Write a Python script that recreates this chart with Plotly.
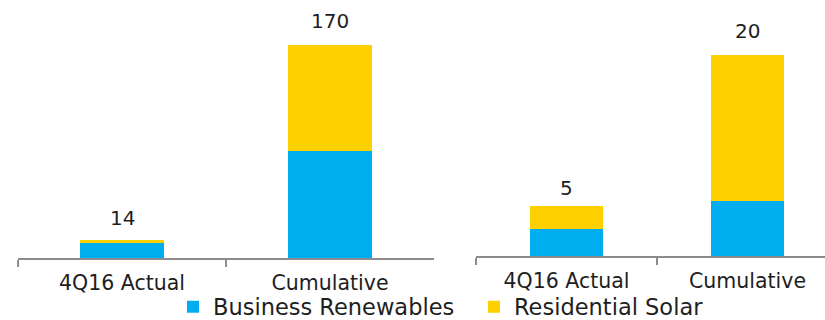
import plotly.graph_objects as go

categories = ["4Q16 Actual", "Cumulative"]
left_business = [12, 85]
left_residential = [2, 85]
left_totals = [14, 170]
right_business = [2.7, 5.5]
right_residential = [2.3, 14.5]
right_totals = [5, 20]
series_names = ["Business Renewables", "Residential Solar"]

BLUE = "#00AEEF"
YELLOW = "#FFD000"
AXIS = "#8C8C8C"
TEXT = "#1E1E1E"
FONT = "DejaVu Sans"

fig = go.Figure()

for vals, name, color in [(left_business, series_names[0], BLUE), (left_residential, series_names[1], YELLOW)]:
    fig.add_trace(go.Bar(x=categories, y=vals, name=name, marker=dict(color=color, line=dict(width=0)),
                         width=0.4, xaxis="x", yaxis="y", legendgroup=name, showlegend=True))
for vals, name, color in [(right_business, series_names[0], BLUE), (right_residential, series_names[1], YELLOW)]:
    fig.add_trace(go.Bar(x=categories, y=vals, name=name, marker=dict(color=color, line=dict(width=0)),
                         width=0.4, xaxis="x2", yaxis="y2", legendgroup=name, showlegend=False))

label_shift = {("x", 0): 8, ("x", 1): 10, ("x2", 0): 4, ("x2", 1): 10}
for ax, totals in [("x", left_totals), ("x2", right_totals)]:
    for i, (c, t) in enumerate(zip(categories, totals)):
        fig.add_annotation(x=c, y=t, xref=ax, yref="y" if ax == "x" else "y2", text=str(t),
                           showarrow=False, yanchor="bottom", yshift=label_shift[(ax, i)],
                           font=dict(family=FONT, size=20, color=TEXT))

xcommon = dict(type="category", showline=True, linecolor=AXIS, linewidth=2, ticks="outside",
               ticklen=7, tickwidth=2, tickcolor=AXIS, tickson="boundaries", showgrid=False,
               zeroline=False, tickfont=dict(family=FONT, size=20.5, color=TEXT), ticklabelstandoff=5,
               fixedrange=True, automargin=False)

fig.update_layout(
    width=825, height=320, margin=dict(l=0, r=0, t=0, b=0, autoexpand=False),
    paper_bgcolor="white", plot_bgcolor="white", barmode="stack",
    xaxis=dict(domain=[18 / 825, 434 / 825], range=[-0.5, 1.5], anchor="y", **xcommon),
    yaxis=dict(domain=[62 / 320, 1.0], range=[0, 205.9], visible=False, anchor="x"),
    xaxis2=dict(domain=[476 / 825, 1.0], range=[-0.5, 1.428], anchor="y2", **xcommon),
    yaxis2=dict(domain=[64 / 320, 1.0], range=[0, 25.47], visible=False, anchor="x2"),
    showlegend=True,
    legend=dict(orientation="h", x=173 / 825, xanchor="left", y=13 / 320, yanchor="middle",
                yref="container", xref="container",
                font=dict(family=FONT, size=22.5, color=TEXT), bgcolor="rgba(0,0,0,0)",
                entrywidth=256, entrywidthmode="pixels", itemclick=False, tracegroupgap=0),
    font=dict(family=FONT),
)

fig.write_html("out.html")
